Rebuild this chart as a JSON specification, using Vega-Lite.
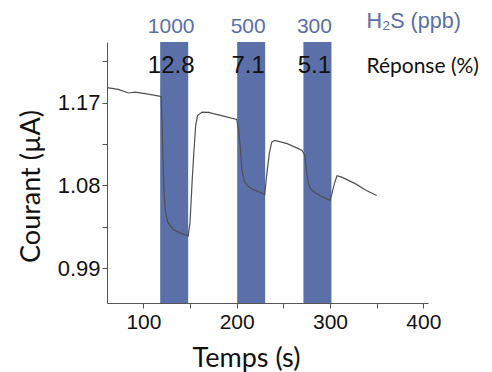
{
  "$schema": "https://vega.github.io/schema/vega-lite/v6.json",
  "width": 321,
  "height": 261,
  "autosize": {"type": "none"},
  "padding": {"left": 107, "top": 42, "right": 64, "bottom": 69},
  "background": "white",
  "config": {"view": {"stroke": null}},
  "datasets": {
    "curve": [
      {"t": 61, "i": 1.1863}, {"t": 73, "i": 1.1845}, {"t": 84, "i": 1.1805}, {"t": 91, "i": 1.1815},
      {"t": 102, "i": 1.1798}, {"t": 117, "i": 1.1772}, {"t": 119, "i": 1.1765}, {"t": 120, "i": 1.15},
      {"t": 121, "i": 1.11}, {"t": 122, "i": 1.075}, {"t": 123.5, "i": 1.052}, {"t": 126, "i": 1.04},
      {"t": 132, "i": 1.032}, {"t": 140, "i": 1.028}, {"t": 148, "i": 1.025}, {"t": 150, "i": 1.04},
      {"t": 152, "i": 1.08}, {"t": 154, "i": 1.115}, {"t": 156, "i": 1.145}, {"t": 158, "i": 1.156},
      {"t": 163, "i": 1.1598}, {"t": 170, "i": 1.1595}, {"t": 175, "i": 1.158}, {"t": 186, "i": 1.1554},
      {"t": 200, "i": 1.1518}, {"t": 202, "i": 1.14}, {"t": 204, "i": 1.12}, {"t": 205.5, "i": 1.097},
      {"t": 208, "i": 1.085}, {"t": 211, "i": 1.08}, {"t": 216, "i": 1.076}, {"t": 222, "i": 1.0738},
      {"t": 230, "i": 1.07}, {"t": 232, "i": 1.09}, {"t": 235, "i": 1.115}, {"t": 237.5, "i": 1.127},
      {"t": 241, "i": 1.129}, {"t": 254, "i": 1.1254}, {"t": 266, "i": 1.12}, {"t": 270, "i": 1.118},
      {"t": 273, "i": 1.1127}, {"t": 275, "i": 1.093}, {"t": 277, "i": 1.082}, {"t": 279, "i": 1.0764},
      {"t": 284, "i": 1.072}, {"t": 289, "i": 1.069}, {"t": 300, "i": 1.0637}, {"t": 302, "i": 1.071},
      {"t": 305, "i": 1.083}, {"t": 307.5, "i": 1.0905}, {"t": 312.5, "i": 1.089}, {"t": 327, "i": 1.0819},
      {"t": 339, "i": 1.0745}, {"t": 350, "i": 1.069}
    ],
    "pulses": [
      {"start": 118, "end": 148, "conc": "1000", "resp": "12.8"},
      {"start": 200.5, "end": 230.5, "conc": "500", "resp": "7.1"},
      {"start": 271.5, "end": 301.5, "conc": "300", "resp": "5.1"}
    ]
  },
  "layer": [
    {
      "data": {"name": "pulses"},
      "mark": {"type": "rect", "color": "#5b6fa9"},
      "encoding": {
        "x": {"field": "start", "type": "quantitative",
          "scale": {"domain": [61, 405], "nice": false, "zero": false},
          "axis": {
            "values": [100, 150, 200, 250, 300, 350, 400],
            "labelExpr": "datum.value % 100 == 0 ? datum.label : ''",
            "grid": false, "domainColor": "#555", "tickColor": "#555", "tickSize": 5,
            "labelFont": "Liberation Sans", "labelFontSize": 21, "labelColor": "#111", "labelPadding": 3,
            "title": "Temps (s)", "titleFont": "Lato", "titleFontSize": 27, "titleFontWeight": "normal",
            "titleColor": "#111", "titleX": 139, "titleY": 55, "titleBaseline": "middle", "titleAlign": "center"
          }
        },
        "x2": {"field": "end"}
      }
    },
    {
      "data": {"name": "curve"},
      "mark": {"type": "line", "color": "#505050", "strokeWidth": 1.2},
      "encoding": {
        "x": {"field": "t", "type": "quantitative"},
        "y": {"field": "i", "type": "quantitative",
          "scale": {"domain": [0.952, 1.236], "nice": false, "zero": false},
          "axis": {
            "values": [0.99, 1.035, 1.08, 1.125, 1.17, 1.215],
            "labelExpr": "indexof(['0.99','1.08','1.17'], format(datum.value, '.2f')) >= 0 ? format(datum.value, '.2f') : ''",
            "grid": false, "domainColor": "#555", "tickColor": "#555", "tickSize": 5,
            "labelFont": "Liberation Sans", "labelFontSize": 22, "labelColor": "#111", "labelPadding": 2,
            "title": "Courant (µA)", "titleFont": "Lato", "titleFontSize": 27, "titleFontWeight": "normal",
            "titleColor": "#111", "titleAngle": 270, "titleX": -76, "titleY": 144,
            "titleBaseline": "middle", "titleAlign": "center"
          }
        }
      }
    },
    {
      "data": {"name": "pulses"},
      "transform": [{"calculate": "(datum.start + datum.end) / 2", "as": "mid"}],
      "mark": {"type": "text", "font": "Liberation Sans", "fontSize": 21, "color": "#5a6ea6", "baseline": "middle", "align": "center", "dx": -3},
      "encoding": {
        "x": {"field": "mid", "type": "quantitative"},
        "y": {"datum": 1.2525},
        "text": {"field": "conc"}
      }
    },
    {
      "data": {"name": "pulses"},
      "transform": [{"calculate": "(datum.start + datum.end) / 2", "as": "mid"}],
      "mark": {"type": "text", "font": "Liberation Sans", "fontSize": 24, "color": "#111", "baseline": "middle", "align": "center", "dx": -3},
      "encoding": {
        "x": {"field": "mid", "type": "quantitative"},
        "y": {"datum": 1.2095},
        "text": {"field": "resp"}
      }
    },
    {
      "data": {"values": [{}]},
      "mark": {"type": "text", "font": "Liberation Sans", "fontSize": 21.5, "color": "#5a6ea6", "baseline": "middle", "align": "left"},
      "encoding": {
        "x": {"datum": 339},
        "y": {"datum": 1.2575},
        "text": {"value": "H₂S (ppb)"}
      }
    },
    {
      "data": {"values": [{}]},
      "mark": {"type": "text", "font": "Lato", "fontSize": 21, "color": "#111", "baseline": "middle", "align": "left"},
      "encoding": {
        "x": {"datum": 339},
        "y": {"datum": 1.2084},
        "text": {"value": "Réponse (%)"}
      }
    }
  ]
}
